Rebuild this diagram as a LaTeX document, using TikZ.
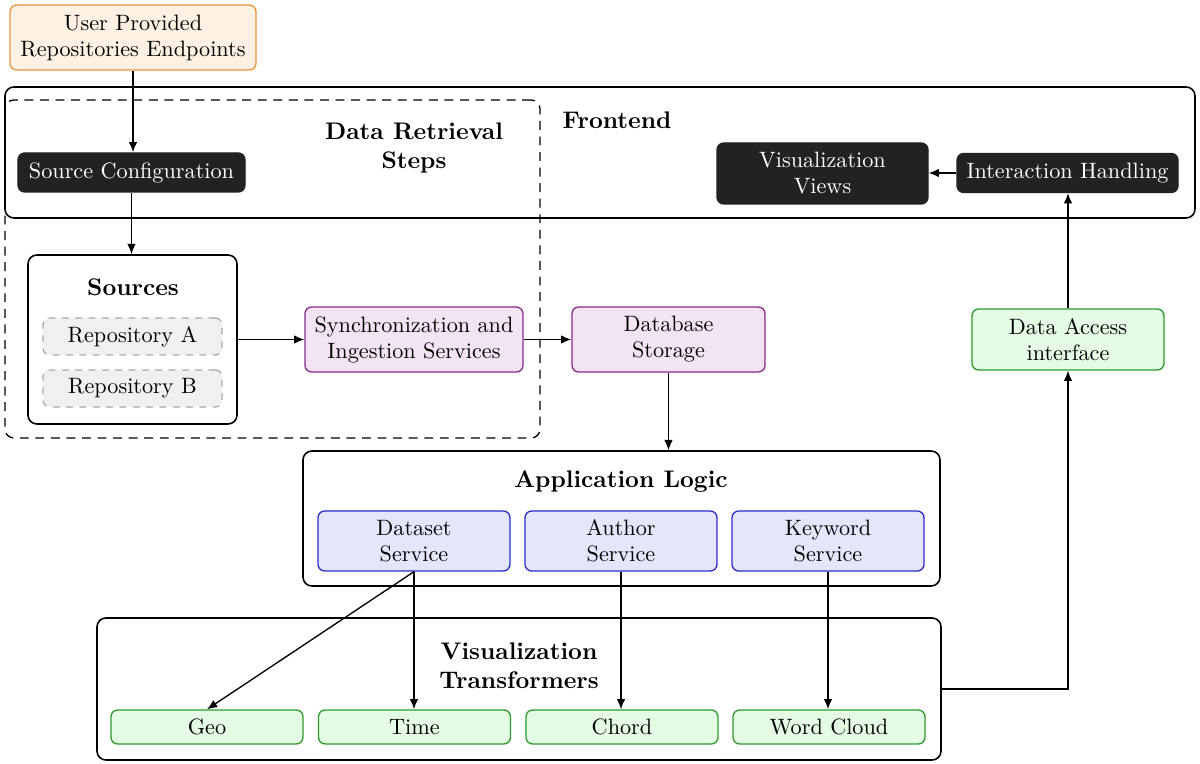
\documentclass[tikz,border=0pt]{standalone}
\usetikzlibrary{arrows.meta}
\definecolor{orgB}{HTML}{E8923A}
\definecolor{orgF}{HTML}{FEF1E3}
\definecolor{purB}{HTML}{8A2A8A}
\definecolor{purF}{HTML}{F3E4F3}
\definecolor{bluB}{HTML}{2B2BC8}
\definecolor{bluF}{HTML}{E4E6FB}
\definecolor{grnB}{HTML}{2E9A2E}
\definecolor{grnF}{HTML}{E4FBE4}
\definecolor{darkF}{HTML}{222222}
\definecolor{repF}{HTML}{F0F0F0}
\definecolor{repB}{HTML}{AAAAAA}
\tikzset{
  box/.style={rounded corners=3pt, line width=0.6pt, align=center, inner sep=1pt, font=\fontsize{10}{11.7}\selectfont},
  userbox/.style={box, draw=orgB, fill=orgF},
  darkbox/.style={box, draw=darkF, fill=darkF, text=white},
  purbox/.style={box, draw=purB, fill=purF},
  blubox/.style={box, draw=bluB, fill=bluF},
  grnbox/.style={box, draw=grnB, fill=grnF},
  repbox/.style={box, draw=repB, fill=repF, dashed},
  group/.style={draw=black, rounded corners=4pt, line width=0.7pt},
  dgroup/.style={draw=black, rounded corners=4pt, line width=0.6pt, dash pattern=on 4pt off 3pt},
  title/.style={font=\fontsize{10.8}{13.2}\selectfont\bfseries, align=center},
  arr/.style={-{Latex[length=4.6pt,width=3.8pt]}, line width=0.6pt},
}
\begin{document}
\begin{tikzpicture}[x=0.45pt,y=-0.45pt]
\useasboundingbox (0,0) rectangle (1200,764);
% groups
\node[group, minimum width=535.5pt, minimum height=58.95pt] (fe) at (600,152.5) {};
\node[title] (fet) at (617,120) {Frontend};
\node[dgroup, minimum width=240.75pt, minimum height=152.1pt] (drs) at (272.5,269) {};
\node[title] (drst) at (414,148) {Data Retrieval\\Steps};
\node[group, fill=white, minimum width=94.05pt, minimum height=76.05pt] (src) at (132.5,339.5) {};
\node[title] (srct) at (133,287) {Sources};
\node[group, minimum width=286.65pt, minimum height=60.75pt] (al) at (621.5,518.5) {};
\node[title] (alt) at (621,482) {Application Logic};
\node[group, minimum width=379.8pt, minimum height=63.9pt] (vt) at (519,689) {};
\node[title] (vtt) at (519,666) {Visualization\\Transformers};
% nodes
\node[userbox, minimum width=110.7pt, minimum height=29.25pt] (user) at (133,37.5) {User Provided\\Repositories Endpoints};
\node[darkbox, minimum width=102.15pt, minimum height=17.55pt] (sc) at (131.5,172.5) {Source Configuration};
\node[darkbox, minimum width=94.95pt, minimum height=27.45pt] (vv) at (822.5,173.5) {Visualization\\Views};
\node[darkbox, minimum width=99.45pt, minimum height=17.55pt] (ih) at (1067.5,173) {Interaction Handling};
\node[repbox, minimum width=80.55pt, minimum height=16.65pt] (ra) at (132.5,336.5) {Repository A};
\node[repbox, minimum width=80.55pt, minimum height=16.65pt] (rb) at (132.5,388.5) {Repository B};
\node[purbox, minimum width=98.1pt, minimum height=29.25pt] (sync) at (414,339.5) {Synchronization and\\Ingestion Services};
\node[purbox, minimum width=86.85pt, minimum height=29.25pt] (db) at (668.5,339.5) {Database\\Storage};
\node[grnbox, minimum width=86.4pt, minimum height=27.45pt] (da) at (1068,339.5) {Data Access\\interface};
\node[blubox, minimum width=86.4pt, minimum height=27pt] (ds) at (414,541) {Dataset\\Service};
\node[blubox, minimum width=86.4pt, minimum height=27pt] (as) at (621,541) {Author\\Service};
\node[blubox, minimum width=86.4pt, minimum height=27pt] (ks) at (828,541) {Keyword\\Service};
\node[grnbox, minimum width=86.4pt, minimum height=15.3pt] (geo) at (207,727) {Geo};
\node[grnbox, minimum width=86.4pt, minimum height=15.3pt] (time) at (414.5,727) {Time};
\node[grnbox, minimum width=86.4pt, minimum height=15.3pt] (chord) at (622,727) {Chord};
\node[grnbox, minimum width=86.4pt, minimum height=15.3pt] (wc) at (829,727) {Word Cloud};
% connectors
\draw[arr] (user.south) -- (user.south |- sc.north);
\draw[arr] (sc.south) -- (sc.south |- src.north);
\draw[arr] (src.east |- sync.west) -- (sync.west);
\draw[arr] (sync.east) -- (db.west);
\draw[arr] (db.south) -- (db.south |- al.north);
\draw[arr] (ds.south) -- (geo.north);
\draw[arr] (ds.south) -- (ds.south |- time.north);
\draw[arr] (as.south) -- (as.south |- chord.north);
\draw[arr] (ks.south) -- (ks.south |- wc.north);
\draw[arr] (vt.east) -| (da.south);
\draw[arr] (da.north) -- (da.north |- ih.south);
\draw[arr] (ih.west) -- (vv.east |- ih.west);
\end{tikzpicture}
\end{document}
